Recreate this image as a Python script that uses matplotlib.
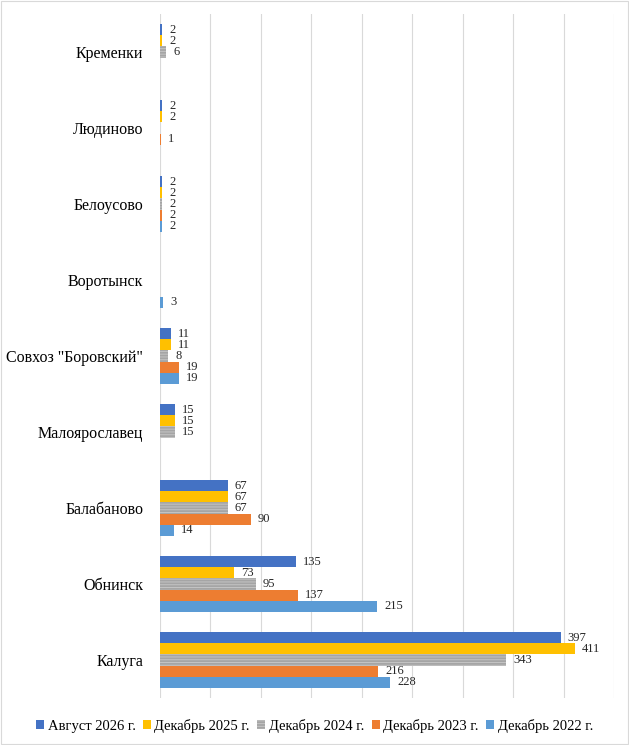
import numpy as np
import matplotlib
matplotlib.use('Agg')
import matplotlib.pyplot as plt

# данные по населённым пунктам (сверху вниз)
towns = ['Кременки', 'Людиново', 'Белоусово', 'Воротынск', 'Совхоз "Боровский"',
         'Малоярославец', 'Балабаново', 'Обнинск', 'Калуга']

aug_2026 = [2, 2, 2, None, 11, 15, 67, 135, 397]
dec_2025 = [2, 2, 2, None, 11, 15, 67, 73, 411]
dec_2024 = [6, None, 2, None, 8, 15, 67, 95, 343]
dec_2023 = [None, 1, 2, None, 19, None, 90, 137, 216]
dec_2022 = [None, None, 2, 3, 19, None, 14, 215, 228]

series = [
    ('Август 2026 г.', aug_2026, '#4472C4', None),
    ('Декабрь 2025 г.', dec_2025, '#FFC000', None),
    ('Декабрь 2024 г.', dec_2024, '#A5A5A5', '------'),
    ('Декабрь 2023 г.', dec_2023, '#ED7D31', None),
    ('Декабрь 2022 г.', dec_2022, '#5B9BD5', None),
]

plt.rcParams['font.family'] = ['Liberation Serif', 'DejaVu Serif']
plt.rcParams['hatch.linewidth'] = 0.7

fig = plt.figure(figsize=(6.29, 7.45), dpi=100)
ax = fig.add_axes([160 / 629, 47 / 745, 454 / 629, 684 / 745])

y = np.arange(len(towns))
h = 0.145
for i, (name, vals, color, hatch) in enumerate(series):
    pos = y + (i - 2) * h
    v = np.array([np.nan if x is None else x for x in vals], dtype=float)
    ax.barh(pos, np.nan_to_num(v), height=h, color=color, label=name,
            hatch=hatch, edgecolor='#C4C4C4' if hatch else color, linewidth=0,
            zorder=3)
    for p, val in zip(pos, v):
        if not np.isnan(val):
            ax.text(val + 7, p, f'{int(val)}', va='center', ha='left',
                    fontsize=9, color='#262626')

ax.set_xlim(0, 450)
ax.set_ylim(len(towns) - 0.5, -0.5)
ax.set_xticks(np.arange(0, 451, 50))
ax.set_xticklabels([])
ax.set_yticks(y)
ax.set_yticklabels(towns, fontsize=11.5)
ax.tick_params(axis='y', length=0, pad=12)
ax.tick_params(axis='x', length=0)
ax.grid(axis='x', color='#D9D9D9', linewidth=0.8, zorder=0)
ax.set_axisbelow(True)
for s in ['top', 'right', 'bottom', 'left']:
    ax.spines[s].set_visible(False)

handles, labels = ax.get_legend_handles_labels()
fig.legend(handles, labels, loc='center', bbox_to_anchor=(0.5, 19 / 745), ncol=5,
           frameon=False, fontsize=10.5, handlelength=0.55, handleheight=0.55,
           handletextpad=0.25, columnspacing=0.5)

# рамка вокруг диаграммы
fig.patches.append(plt.Rectangle((0.001, 0.001), 0.998, 0.998, transform=fig.transFigure,
                                 fill=False, edgecolor='#D9D9D9', linewidth=0.8))

fig.savefig('out.png', dpi=100)
plt.close(fig)
